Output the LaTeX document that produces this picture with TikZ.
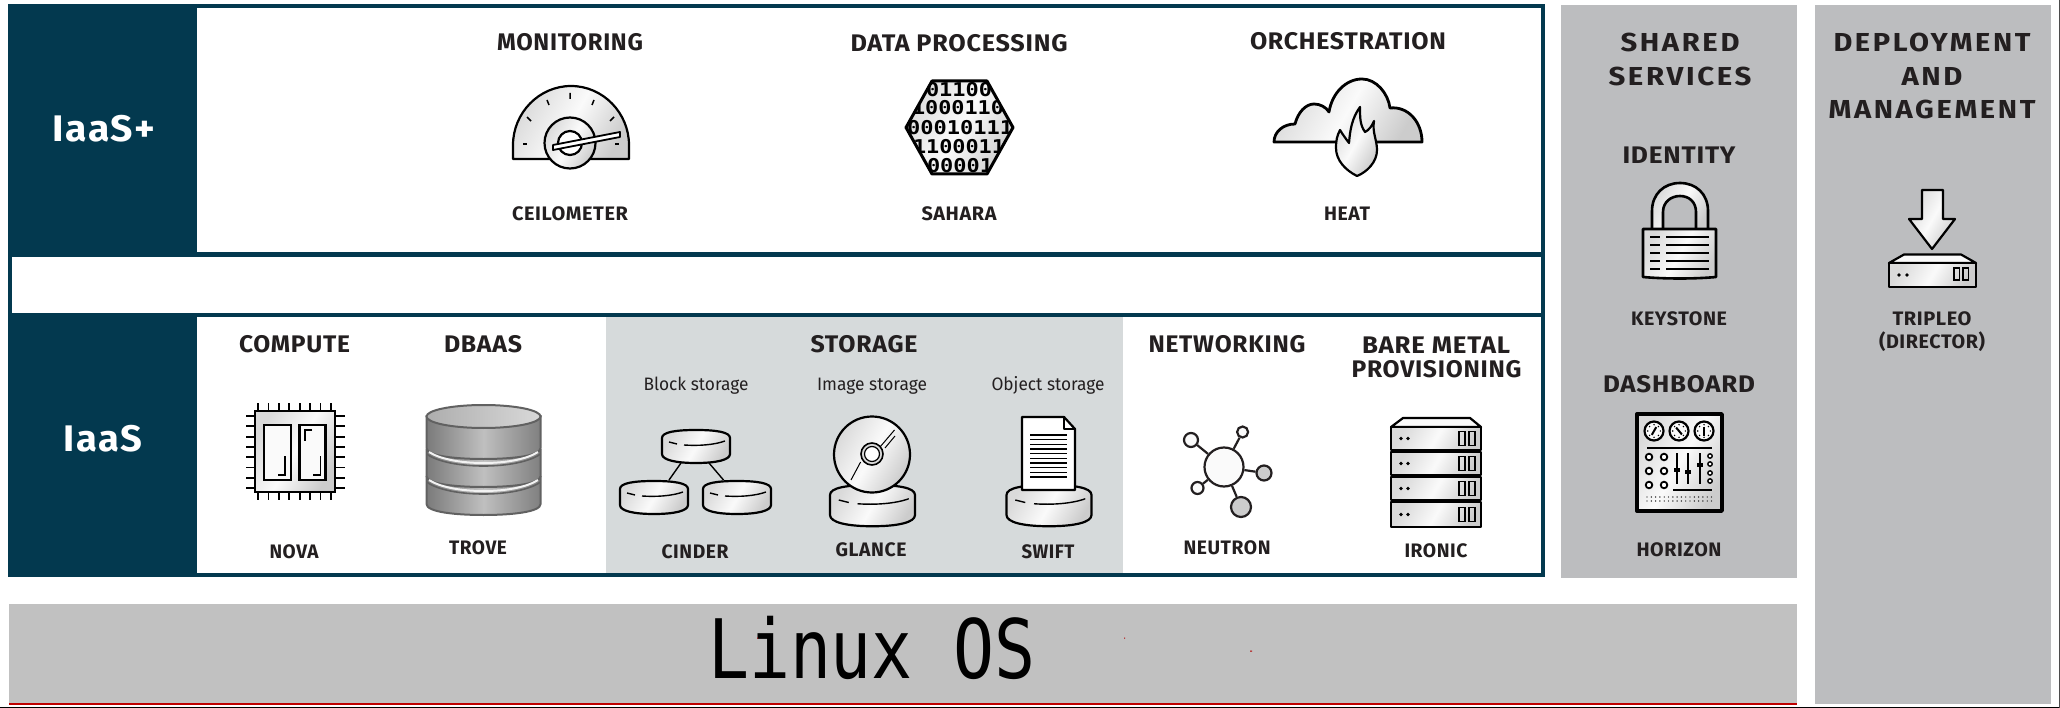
\documentclass[tikz,border=0pt]{standalone}
\usepackage{graphicx}
\usepackage{fontspec}
\setmainfont{Fira Sans}
\newfontfamily\hf{Fira Sans}[LetterSpace=3]
\newfontfamily\hfw{Fira Sans}[LetterSpace=9]
\newfontfamily\monofam{DejaVu Sans Mono}
\definecolor{navy}{HTML}{03394F}
\definecolor{panel}{HTML}{BCBDBF}
\definecolor{linuxbg}{HTML}{C1C1C1}
\definecolor{stor}{HTML}{D6DADB}
\definecolor{ink}{HTML}{231F20}
\definecolor{iconL}{HTML}{DADADA}
\definecolor{iconM}{HTML}{FAFAFA}
\definecolor{iconR}{HTML}{CCCCCC}
\newcommand{\fitw}[2]{\resizebox{#1pt}{\height}{#2}}
\tikzset{
  lbl/.style={inner sep=0pt,text=ink},
  h1/.style={lbl,font=\hf\fontsize{24}{24}\selectfont\bfseries},
  h2/.style={lbl,font=\hf\fontsize{19.5}{19.5}\selectfont\bfseries},
  h3/.style={lbl,font=\hfw\fontsize{26}{26}\selectfont\bfseries},
  small/.style={inner sep=0pt,text=ink,font=\fontsize{18}{18}\selectfont,text height=14pt,text depth=4pt},
  iaas/.style={inner sep=0pt,text=white,font=\hf\fontsize{37}{37}\selectfont\bfseries},
  iconfill/.style={left color=iconL,right color=iconR,middle color=iconM,shading angle=60},
  ic/.style={draw=black,line width=2.2pt,line join=round},
  thinl/.style={draw=black,line width=1.4pt},
  panelbox/.style={fill=panel,draw=none,inner sep=0pt,rectangle},
  hub/.style={circle,inner sep=0pt,draw=ink,line width=2.2pt,fill=iconM},
  sat/.style={circle,inner sep=0pt,draw=ink,line width=2.2pt,fill=iconM},
  satg/.style={sat,fill=iconR},
  pics/diskicon/.style={code={
    \draw[ic,iconfill] (-34,8) .. controls (-34,2) and (-20,0) .. (0,0) .. controls (20,0) and (34,2) .. (34,8) -- (34,24) .. controls (34,30) and (20,33) .. (0,33) .. controls (-20,33) and (-34,30) .. (-34,24) -- cycle;
    \draw[thinl] (-27,12) -- (-19,14);
    \draw[thinl] (-12,15) .. controls (2,16) and (18,15) .. (29,11);
  }},
}
\newcommand{\rackrow}[4]{% x y w h
  \begin{scope}[shift={(#1,#2)}]
    \draw[ic,line width=2.8pt,iconfill] (0,0) rectangle (#3,#4);
    \fill[black] (10,#4/2) circle (1.9) (17,#4/2) circle (1.9);
    \draw[thinl] (#3-22,#4/2-7) rectangle ++(6,14);
    \draw[thinl] (#3-12,#4/2-7) rectangle ++(6,14);
  \end{scope}}
\newcommand{\dial}[3]{% x y needle angle
  \draw[black,line width=2.2pt,fill=iconM] (#1,#2) circle (9.5);
  \foreach \a in {0,45,...,315} {\fill[black] (#1,#2) ++(\a:6.3) circle (0.8);}
  \draw[black,line width=2pt] (#1,#2) ++(#3:4.5) -- ++(#3+180:9);
}
\begin{document}
\begin{tikzpicture}[x=1pt,y=-1pt]
\useasboundingbox (0,0) rectangle (2060,708);
\fill[white] (0,0) rectangle (2060,708);

% IaaS frame
\node[fill=stor,inner sep=0pt,minimum width=517pt,minimum height=256pt] (storagebg) at (864.5,445) {};
\draw[navy,line width=4pt] (10,6) rectangle (1543,575);
\draw[navy,line width=4.5pt] (10,254.5) -- (1543,254.5) (10,315) -- (1543,315);
\node[fill=navy,inner sep=0pt,minimum width=187pt,minimum height=246pt] (plusbox) at (103.5,130) {};
\node[fill=navy,inner sep=0pt,minimum width=187pt,minimum height=258pt] (iaasbox) at (103.5,445) {};
\node[iaas] (tplus) at (104,129) {\fitw{102}{IaaS+}};
\node[iaas] (tiaas) at (103,439) {\fitw{78}{IaaS}};

% panels
\node[panelbox,minimum width=236pt,minimum height=573pt] (shared) at (1679,291.5) {};
\node[panelbox,minimum width=236pt,minimum height=699pt] (deploy) at (1933,354.5) {};
\node[fill=linuxbg,inner sep=0pt,minimum width=1788pt,minimum height=101pt] (linux) at (903,654.5) {};
\fill[red!75!black] (9,703) rectangle (1797,705);
\draw[black,line width=1.2pt] (0,707.4) -- (2060,707.4);
\draw[black!70,line width=1pt] (2059.3,0) -- (2059.3,708);
\node[inner sep=0pt,text=black,font=\monofam\fontsize{82}{82}\selectfont] (os) at (872,648) {\fitw{328}{Linux OS}};
\fill[red!70!black] (757,637.5) rectangle (758,638.5) (1124,637.5) rectangle (1125,638.5) (1250,650.5) rectangle (1252,651.5);

% top row labels
\node[h1] (mon) at (570,42) {\fitw{146}{MONITORING}};
\node[h1] (dat) at (959,43) {\fitw{217}{DATA PROCESSING}};
\node[h1] (orc) at (1348,41) {\fitw{196}{ORCHESTRATION}};
\node[h2] (cei) at (570,214) {\fitw{116}{CEILOMETER}};
\node[h2] (sah) at (959,214) {\fitw{75}{SAHARA}};
\node[h2] (hea) at (1347,214) {\fitw{46}{HEAT}};

% bottom row labels
\node[h1] (com) at (294.5,344) {\fitw{111}{COMPUTE}};
\node[h1] (dba) at (483,344) {\fitw{78}{DBAAS}};
\node[h1] (sto) at (864,344) {\fitw{107}{STORAGE}};
\node[h1] (net) at (1227,344) {\fitw{157}{NETWORKING}};
\node[h1] (bar) at (1436,345) {\fitw{148}{BARE METAL}};
\node[h1] (pro) at (1436.5,369) {\fitw{170}{PROVISIONING}};
\node[small] (blk) at (696,385) {\fitw{105}{Block storage}};
\node[small] (img) at (872,385) {\fitw{110}{Image storage}};
\node[small] (obj) at (1048,385) {\fitw{113}{Object storage}};
\node[h2] (nov) at (294,552) {\fitw{49}{NOVA}};
\node[h2] (tro) at (478,548) {\fitw{58}{TROVE}};
\node[h2] (cin) at (695,552) {\fitw{67}{CINDER}};
\node[h2] (gla) at (871,550) {\fitw{71}{GLANCE}};
\node[h2] (swi) at (1048,552) {\fitw{53}{SWIFT}};
\node[h2] (neu) at (1227,548) {\fitw{87}{NEUTRON}};
\node[h2] (iro) at (1436,551) {\fitw{63}{IRONIC}};

% side panel labels
\node[h3] (sha) at (1680,42) {\fitw{119}{SHARED}};
\node[h3] (ser) at (1680,76) {\fitw{143}{SERVICES}};
\node[h1] (ide) at (1679,155) {\fitw{113}{IDENTITY}};
\node[h2] (key) at (1679,319) {\fitw{96}{KEYSTONE}};
\node[h1] (das) at (1679,384) {\fitw{152}{DASHBOARD}};
\node[h2] (hor) at (1679,550) {\fitw{85}{HORIZON}};
\node[h3] (dep) at (1932,42) {\fitw{197}{DEPLOYMENT}};
\node[h3] (and) at (1932,76) {\fitw{61}{AND}};
\node[h3] (man) at (1932,109) {\fitw{207}{MANAGEMENT}};
\node[h2] (tri) at (1932,319) {\fitw{79}{TRIPLEO}};
\node[h2] (dir) at (1932,342) {\fitw{106}{(DIRECTOR)}};

% gauge (ceilometer)
\draw[ic,iconfill] (513,159) -- (513,145) .. controls (513,113) and (539,86) .. (571,86) .. controls (603,86) and (629,113) .. (629,145) -- (629,159) -- cycle;
\foreach \p/\q in {523/527,615/619}{\draw[black,line width=1.5pt] (\p,144) -- (\q,144);}
\draw[black,line width=1.5pt] (570,93) -- (570,99) (547,100) -- (549,105) (594,100) -- (592,105) (527,117) -- (531,121) (614,117) -- (610,121);
\draw[ic,iconfill] (570,143) circle (25.5);
\draw[ic,fill=white] (570,143) circle (12);
\draw[ic,fill=white,line width=1.8pt] (553,145) -- (620,132) -- (620,137) -- (553,150) -- cycle;

% hexagon (sahara)
\begin{scope}
  \path[clip] (906,127.5) -- (932,81) -- (987,81) -- (1013,127.5) -- (987,174) -- (932,174) -- cycle;
  \fill[left color=iconL,right color=iconR,middle color=iconM,shading angle=60] (900,75) rectangle (1020,180);
  \begin{scope}[font=\monofam\bfseries\fontsize{19}{19}\selectfont,text=black,inner sep=0pt]
    \node (bin1) at (959,90) {\fitw{66}{01100}};
    \node (bin2) at (958,108) {\fitw{92}{1000110}};
    \node (bin3) at (960,128) {\fitw{106}{00010111}};
    \node (bin4) at (959,147) {\fitw{92}{1100011}};
    \node (bin5) at (960,166) {\fitw{66}{00001}};
  \end{scope}
\end{scope}
\draw[black,line width=3pt,line join=round] (906,127.5) -- (932,81) -- (987,81) -- (1013,127.5) -- (987,174) -- (932,174) -- cycle;

% cloud and flame (heat)
\draw[black,line width=2.8pt,line join=round,iconfill] (1274,142) .. controls (1274,132) and (1283,124) .. (1295,124) .. controls (1298,112) and (1306,104) .. (1314,104) .. controls (1320,104) and (1326,107) .. (1329,112) .. controls (1332,93) and (1346,79) .. (1362,79) .. controls (1376,79) and (1388,93) .. (1390,108) .. controls (1408,106) and (1422,122) .. (1422,142) -- cycle;
\draw[ic,iconfill] (1357,176) .. controls (1345,170) and (1336,160) .. (1336,148) .. controls (1336,140) and (1337,136) .. (1340,130) .. controls (1343,135) and (1346,139) .. (1349,143) .. controls (1350,130) and (1352,118) .. (1360,107) .. controls (1360,118) and (1360,125) .. (1365,132) .. controls (1369,130) and (1372,126) .. (1374,121) .. controls (1372,132) and (1377,140) .. (1377,150) .. controls (1377,162) and (1367,172) .. (1357,176) -- cycle;

% chip (nova)
\foreach \i in {0,...,7}{
  \draw[black,line width=1.8pt] ({258+\i*10.4},403) -- ({258+\i*10.4},500);
  \draw[black,line width=1.8pt] (246,{416+\i*10.3}) -- (345,{416+\i*10.3});
}
\draw[black,line width=2.8pt,iconfill] (255,411) rectangle (335,492);
\draw[black,line width=2.4pt,fill=iconM] (264,425) rectangle (291,480);
\draw[black,line width=2.4pt,fill=iconM] (299.5,425) rectangle (325.5,480);
\draw[thinl] (278,475) -- (285,475) -- (285,456);
\draw[thinl] (312,430) -- (305,430) -- (305,441);
\draw[thinl] (313,475) -- (320.5,475) -- (320.5,456);

% database (trove)
\begin{scope}[line width=2pt]
  \foreach \t/\b in {477/515,450/487,416/459}{
    \draw[black!62,left color=black!52,right color=black!50,middle color=black!25] (426.5,\t) -- (426.5,\b-11) .. controls (426.5,\b-3) and (455,\b) .. (483.5,\b) .. controls (512,\b) and (540.6,\b-3) .. (540.6,\b-11) -- (540.6,\t) -- cycle;
  }
  \foreach \b in {459,487}{
    \draw[black!5,line width=2pt] (429,\b-7) .. controls (440,\b) and (460,\b+4) .. (483.5,\b+4) .. controls (507,\b+4) and (527,\b) .. (538,\b-7);
    \draw[black!62,line width=1.6pt] (426.5,\b-5) .. controls (438,\b+3) and (460,\b+7) .. (483.5,\b+7) .. controls (507,\b+7) and (529,\b+3) .. (540.6,\b-5);
  }
  \draw[black!62,left color=black!32,right color=black!15] (483.5,416.5) ellipse (57 and 11.5);
\end{scope}

% cinder
\coordinate (cA) at (681,463); \coordinate (cB) at (669,480);
\coordinate (cC) at (709,463); \coordinate (cD) at (723.5,480);
\draw[thinl] (cA) -- (cB) (cC) -- (cD);
\pic (d1) at (696,430) {diskicon};
\pic (d2) at (654,481) {diskicon};
\pic (d3) at (737,481) {diskicon};

% glance
\pic[scale=1.25] (d4) at (872.5,485) {diskicon};
\draw[ic,iconfill] (872,454.5) circle (38);
\draw[thinl,line width=1pt] (880,447) -- (894.5,430) (860.6,462) -- (851,480) (885,448) -- (895,436);
\draw[black,line width=1.6pt,fill=iconL] (872,454) circle (11);
\draw[black,line width=1.2pt,fill=white] (872,454) circle (7.5);

% swift
\pic[scale=1.25] (d5) at (1049,485) {diskicon};
\draw[ic,fill=white] (1022,417) -- (1064,417) -- (1075,429) -- (1075,490) -- (1022,490) -- cycle;
\draw[ic,line width=1.5pt] (1064,417) -- (1064,429) -- (1075,429);
\foreach \i in {0,...,9}{\draw[black,line width=1.4pt] (1030,{435+\i*4.65}) -- (1067,{435+\i*4.65});}

% neutron
\node[hub,minimum size=39pt] (nhub) at (1224,467) {};
\node[sat,minimum size=14pt] (n1) at (1191,440) {};
\node[sat,minimum size=11pt] (n2) at (1242.6,432) {};
\node[satg,minimum size=15pt] (n3) at (1264,473) {};
\node[sat,minimum size=12pt] (n4) at (1197.5,488) {};
\node[satg,minimum size=20pt] (n5) at (1241,507) {};
\draw[ink,line width=2.2pt] (nhub) -- (n1) (nhub) -- (n2) (nhub) -- (n3) (nhub) -- (n4) (nhub) -- (n5);

% ironic rack
\draw[ic,fill=iconM] (1391,427) -- (1403,418) -- (1470,418) -- (1481,427) -- cycle;
\rackrow{1391}{427}{90}{23}
\rackrow{1391}{452}{90}{23}
\rackrow{1391}{477}{90}{23}
\rackrow{1391}{502}{90}{25}

% lock
\draw[black,line width=2.6pt,iconfill] (1652,230) -- (1652,211) .. controls (1652,194) and (1664,183) .. (1680,183) .. controls (1696,183) and (1708,194) .. (1708,211) -- (1708,230) -- (1696,230) -- (1696,212) .. controls (1696,202) and (1689,196) .. (1680,196) .. controls (1671,196) and (1663,202) .. (1663,212) -- (1663,230) -- cycle;
\draw[black,line width=2.6pt,line join=round,iconfill] (1643,229) -- (1716,229) -- (1716,277) .. controls (1695,279) and (1665,279) .. (1643,277) -- cycle;
\foreach \y in {237,245,253,261,269}{
  \draw[black,line width=1.2pt] (1650,\y) -- (1660,\y);
  \draw[black,line width=1.7pt] (1666,\y) -- (1709,\y);
}

% dashboard
\draw[black,line width=3.4pt,line join=round,iconfill] (1637,414) rectangle (1722,511);
\dial{1654}{431}{-60}
\dial{1679}{431}{-130}
\dial{1704}{431}{-90}
\draw[thinl,line width=1.6pt] (1647,448) -- (1712,448) (1673,490) -- (1712,490);
\foreach \x in {1649,1664}\foreach \y in {457,471,485}{\draw[black,line width=1.8pt,fill=white] (\x,\y) circle (3.3);}
\foreach \x/\h in {1677/470,1688/472,1700/465}{
  \draw[black,line width=1.6pt] (\x,453) -- (\x,484);
  \fill[black] (\x-3,\h-2) rectangle (\x+3,\h+2);
}
\foreach \y in {456,464,473,481}{\draw[black,line width=1.4pt,fill=white] (1710,\y) circle (2.2);}
\foreach \y in {497,501}\foreach \i in {0,...,15}{\fill[black] ({1647+\i*4.3},\y) circle (0.7);}

% tripleo
\draw[ic,iconfill] (1922,190) -- (1943,190) -- (1943,219) -- (1955,219) -- (1932,249) -- (1909,219) -- (1922,219) -- cycle;
\draw[ic,fill=iconM] (1889,263) -- (1904,254.5) -- (1961,254.5) -- (1976,263) -- cycle;
\draw[ic,iconfill] (1889,263) rectangle (1976,287);
\fill[black] (1899,275) circle (1.8) (1907,275) circle (1.8);
\draw[thinl] (1954,268) rectangle (1959.5,280);
\draw[thinl] (1963,268) rectangle (1968.5,280);
\end{tikzpicture}
\end{document}
